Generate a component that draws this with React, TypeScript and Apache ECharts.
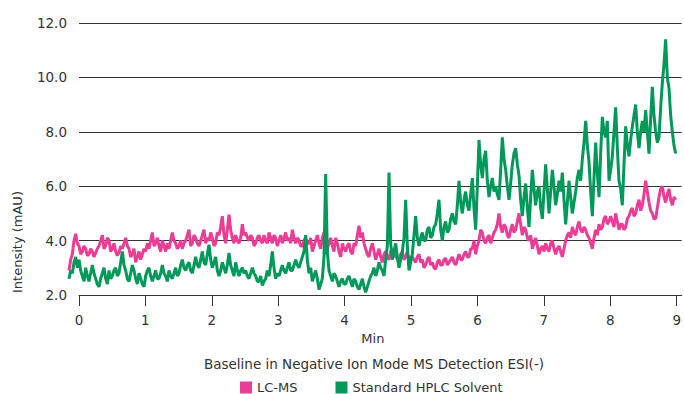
import React, { useEffect, useRef } from "react";
import * as echarts from "echarts";

// Sampling of the traces (minutes)
const START_MIN = -0.15;
const STEP_MIN = 0.025;

// LC-MS trace (mAU), one value per 0.025 min starting at -0.15 min
const lcmsValues = [
  2.9, 3.3, 3.5, 4.0, 4.25, 3.9,
  3.8, 3.5, 3.6, 3.8, 3.7, 3.45, 3.5, 3.7, 3.6, 3.4, 3.55, 3.7, 3.8, 4.0, 4.2, 3.7, 3.8, 4.1, 4.0, 3.6,
  3.7, 3.9, 3.6, 3.45, 3.55, 3.8, 3.7, 3.9, 4.1, 3.8, 3.7, 3.4, 3.5, 3.7, 3.2, 3.4, 3.6, 3.3, 3.5, 3.7,
  3.6, 3.9, 3.7, 4.0, 4.3, 3.8, 3.9, 4.1, 3.8, 3.6, 4.0, 3.8, 3.6, 3.9, 3.7, 4.0, 4.3, 4.0, 3.9, 3.7,
  3.8, 4.0, 3.7, 3.9, 4.0, 4.2, 4.4, 3.8, 3.9, 4.2, 4.1, 3.9, 3.8, 4.0, 4.2, 4.4, 3.9, 4.1, 4.0, 4.3,
  4.1, 3.8, 3.9, 4.3, 4.2, 4.5, 4.9, 4.2, 3.9, 4.4, 4.95, 4.4, 4.1, 3.9, 4.2, 4.0, 3.9, 4.1, 4.6, 4.2,
  4.3, 4.1, 4.0, 4.2, 4.1, 3.8, 3.9, 4.1, 4.2, 4.0, 3.9, 4.2, 4.0, 3.9, 4.3, 4.1, 3.9, 4.2, 4.1, 3.8,
  4.0, 4.2, 3.9, 4.1, 4.3, 4.0, 4.1, 3.9, 4.4, 4.1, 3.9, 4.1, 4.0, 3.8, 3.8, 4.0, 4.1, 3.9, 3.9, 4.1,
  3.6, 3.8, 4.0, 4.2, 3.9, 3.7, 4.1, 4.3, 3.5, 3.7, 3.9, 4.1, 3.8, 3.6, 4.1, 3.9, 3.6, 3.4, 3.9, 3.7,
  3.6, 3.8, 3.9, 3.6, 3.5, 3.9, 3.8, 4.2, 4.55, 4.1, 4.3, 3.9, 3.7, 3.5, 3.4, 3.7, 3.9, 3.6, 3.3, 3.5,
  3.7, 3.4, 3.2, 3.5, 3.6, 3.4, 3.3, 3.6, 3.7, 3.4, 3.5, 3.3, 3.3, 3.5, 3.6, 3.3, 3.4, 3.6, 3.2, 3.4,
  3.4, 3.3, 3.2, 3.4, 3.5, 3.2, 3.3, 3.0, 3.1, 3.3, 3.4, 3.1, 3.2, 3.0, 2.95, 3.2, 3.3, 3.1, 3.1, 3.3,
  3.35, 3.1, 3.2, 3.3, 3.4, 3.2, 3.1, 3.3, 3.5, 3.3, 3.3, 3.5, 3.6, 3.4, 3.4, 3.7, 3.7, 4.0, 3.5, 3.8,
  4.0, 4.4, 4.3, 4.0, 3.9, 4.1, 4.2, 3.9, 4.1, 4.3, 4.4, 4.6, 5.0, 4.5, 4.3, 4.6, 4.5, 4.2, 4.1, 4.4,
  4.6, 4.3, 4.4, 4.7, 5.0, 4.6, 4.2, 4.5, 4.4, 4.1, 4.0, 4.2, 3.7, 3.9, 4.1, 3.8, 3.5, 3.7, 3.8, 3.6,
  3.9, 3.7, 3.6, 3.9, 4.0, 3.7, 3.5, 3.7, 3.8, 3.6, 3.4, 3.7, 4.0, 4.2, 4.3, 4.1, 4.5, 4.3, 4.2, 4.5,
  4.7, 4.4, 4.3, 4.5, 4.4, 4.2, 4.1, 3.9, 3.7, 4.1, 4.4, 4.2, 4.6, 4.4, 4.5, 4.8, 4.9, 4.6, 4.7, 4.9,
  4.7, 4.5, 5.0, 4.7, 4.4, 4.6, 4.6, 4.4, 4.5, 4.8, 4.9, 5.1, 5.2, 4.9, 5.0, 5.3, 5.5, 5.1, 5.3, 5.7,
  6.2, 5.8, 5.4, 5.1, 5.0, 4.8, 4.8, 5.2, 5.6, 5.9, 6.0, 5.6, 5.4, 5.7, 5.9, 5.5, 5.3, 5.6, 5.5,
];

// Standard HPLC Solvent trace (mAU), same sampling
const hplcValues = [
  2.6, 2.9, 2.8, 3.2, 3.4, 3.0,
  3.3, 2.9, 2.7, 2.5, 3.0, 2.7, 2.5, 2.8, 3.1, 2.8, 2.6, 2.4, 2.3, 2.6, 2.8, 3.0, 2.6, 2.4, 2.9, 2.6,
  2.7, 2.9, 3.0, 2.7, 2.8, 3.2, 3.6, 3.1, 2.9, 2.6, 2.5, 2.8, 3.1, 2.9, 2.6, 2.4, 2.8, 2.6, 2.4, 2.3,
  2.7, 2.9, 3.0, 2.7, 2.5, 2.7, 2.9, 2.6, 2.6, 2.8, 3.1, 2.8, 2.7, 2.5, 2.9, 2.7, 2.6, 2.8, 3.0, 2.7,
  2.8, 3.1, 3.3, 3.0, 2.9, 3.1, 3.2, 2.9, 2.8, 3.1, 3.4, 3.1, 3.0, 3.3, 3.6, 3.2, 3.1, 3.5, 3.85, 3.3,
  3.0, 3.2, 3.4, 2.9, 2.7, 2.9, 3.2, 3.0, 2.8, 3.1, 3.55, 3.1, 2.9, 2.7, 3.2, 2.9, 2.7, 2.9, 3.0, 2.8,
  2.9, 2.7, 2.6, 2.8, 3.0, 2.8, 2.7, 2.5, 2.5, 2.7, 2.35, 2.5, 2.6, 2.9, 2.7, 3.1, 3.6, 3.0, 2.6, 2.8,
  2.7, 2.9, 3.1, 2.9, 2.8, 3.0, 3.2, 2.9, 2.9, 3.1, 3.3, 3.1, 3.0, 3.2, 3.4, 3.6, 4.2, 3.3, 2.8, 3.0,
  2.5, 2.7, 2.9, 2.6, 2.2, 2.4, 2.6, 3.4, 6.45, 3.6, 2.9, 2.7, 2.5, 2.8, 2.7, 2.5, 2.3, 2.5, 2.6, 2.4,
  2.4, 2.6, 2.7, 2.5, 2.3, 2.6, 2.5, 2.3, 2.2, 2.4, 2.6, 2.3, 2.1, 2.3, 2.5, 2.7, 2.8, 3.0, 2.7, 2.9,
  3.2, 3.0, 2.9, 2.7, 3.3, 3.8, 6.5, 3.9, 3.3, 3.6, 3.9, 3.4, 3.0, 3.3, 3.6, 4.1, 5.5, 3.8, 2.9, 3.2,
  3.5, 4.2, 4.9, 4.1, 3.8, 4.1, 4.3, 4.0, 4.0, 4.4, 4.5, 4.1, 4.2, 4.5, 4.6, 5.0, 5.5, 4.4, 4.0, 4.5,
  4.7, 4.3, 4.4, 4.8, 5.0, 4.7, 4.6, 5.3, 6.2, 5.4, 5.0, 5.5, 5.8, 5.3, 5.1, 5.7, 6.3, 5.2, 4.4, 6.0,
  7.7, 6.8, 6.3, 7.0, 7.3, 6.2, 5.6, 6.0, 6.3, 5.8, 6.0, 5.7, 5.5, 6.6, 7.8, 7.0, 6.6, 6.0, 5.5, 6.1,
  6.8, 7.2, 7.4, 6.8, 6.4, 5.5, 4.9, 5.6, 6.1, 5.2, 4.5, 5.6, 6.6, 5.9, 5.3, 5.8, 6.0, 5.2, 4.8, 5.8,
  6.8, 5.9, 5.0, 5.8, 6.6, 6.0, 5.3, 5.7, 6.2, 5.8, 6.5, 5.5, 4.6, 5.4, 6.2, 5.6, 5.0, 5.4, 5.8, 6.3,
  6.6, 6.2, 7.0, 7.6, 8.4, 7.5, 6.9, 5.8, 4.9, 6.3, 7.6, 6.5, 5.6, 7.2, 8.55, 8.0, 7.8, 8.4, 6.2, 6.6,
  7.1, 8.0, 8.9, 7.4, 6.2, 5.9, 5.3, 6.8, 8.2, 7.5, 7.1, 7.7, 8.2, 8.6, 9.0, 8.0, 7.4, 8.0, 8.4, 8.0,
  8.8, 8.0, 7.2, 8.5, 9.65, 8.6, 8.0, 7.6, 7.8, 8.9, 9.8, 10.5, 11.4, 10.0, 9.6, 8.6, 8.0, 7.5, 7.2,
];

const xTickValues = [0, 1, 2, 3, 4, 5, 6, 7, 8, 9];
const seriesNames = ["LC-MS", "Standard HPLC Solvent"];
const titleText = "Baseline in Negative Ion Mode MS Detection ESI(-)";
const xAxisName = "Min";
const yAxisName = "Intensity (mAU)";

const PINK = "#EC3D96";
const GREEN = "#00995A";
const TEXT = "#333333";
const FONT = "DejaVu Sans, Verdana, sans-serif";

function toPairs(values: number[]): [number, number][] {
  return values.map((v, i) => [Number((START_MIN + i * STEP_MIN).toFixed(3)), v]);
}

export default function App() {
  const ref = useRef<HTMLDivElement>(null);

  useEffect(() => {
    if (!ref.current) return;
    const chart = echarts.init(ref.current, null, { renderer: "svg" });
    chart.setOption({
      animation: false,
      backgroundColor: "#ffffff",
      textStyle: { fontFamily: FONT },
      grid: [
        { left: 79, right: 0, top: 23, bottom: 99, containLabel: false },
        // data grid: same scale, reaching back to the first sample at -0.15 min
        { left: 69, right: 0, top: 23, bottom: 99, containLabel: false },
      ],
      title: {
        text: titleText,
        left: 369,
        top: 359,
        textAlign: "center",
        textVerticalAlign: "middle",
        textStyle: { fontSize: 13.5, fontWeight: "normal", color: TEXT, fontFamily: FONT },
      },
      legend: {
        data: seriesNames,
        left: 235,
        top: 376,
        icon: "rect",
        itemWidth: 12,
        itemHeight: 12,
        itemGap: 38,
        textStyle: { fontSize: 13, color: TEXT, fontFamily: FONT },
      },
      xAxis: [
        {
          type: "value",
          gridIndex: 0,
          min: 0,
          max: 9.075,
          name: xAxisName,
          nameLocation: "middle",
          nameGap: 35,
          nameTextStyle: { fontSize: 13, color: TEXT, fontFamily: FONT, padding: [0, 15, 0, 0] },
          axisLine: { show: true, onZero: false, lineStyle: { color: TEXT, width: 1 } },
          axisTick: { show: true, length: 11, customValues: xTickValues, lineStyle: { color: TEXT } },
          axisLabel: { customValues: xTickValues, margin: 18, fontSize: 13.5, color: TEXT, fontFamily: FONT },
          splitLine: { show: false },
        },
        {
          type: "value",
          gridIndex: 1,
          min: -0.15,
          max: 9.075,
          show: false,
          splitLine: { show: false },
        },
      ],
      yAxis: [
        {
          type: "value",
          gridIndex: 0,
          min: 2,
          max: 12,
          interval: 2,
          axisLine: { show: false },
          axisTick: { show: false },
          axisLabel: {
            formatter: (v: number) => v.toFixed(1),
            margin: 12,
            fontSize: 13.5,
            color: TEXT,
            fontFamily: FONT,
          },
          splitLine: { show: true, lineStyle: { color: TEXT, width: 1 } },
        },
        {
          type: "value",
          gridIndex: 1,
          min: 2,
          max: 12,
          interval: 2,
          show: false,
          splitLine: { show: false },
        },
      ],
      graphic: [
        {
          type: "text",
          x: 17,
          y: 242,
          rotation: Math.PI / 2,
          style: {
            text: yAxisName,
            fontSize: 13,
            fill: TEXT,
            align: "center",
            verticalAlign: "middle",
            fontFamily: FONT,
          },
        },
      ],
      series: [
        {
          name: seriesNames[0],
          type: "line",
          xAxisIndex: 1,
          yAxisIndex: 1,
          data: toPairs(lcmsValues),
          symbol: "none",
          showSymbol: false,
          clip: false,
          color: PINK,
          lineStyle: { width: 3, color: PINK },
          itemStyle: { color: PINK },
        },
        {
          name: seriesNames[1],
          type: "line",
          xAxisIndex: 1,
          yAxisIndex: 1,
          data: toPairs(hplcValues),
          symbol: "none",
          showSymbol: false,
          clip: false,
          color: GREEN,
          lineStyle: { width: 3, color: GREEN },
          itemStyle: { color: GREEN },
        },
      ],
    });
    return () => {
      chart.dispose();
    };
  }, []);

  return (
    <div
      ref={ref}
      style={{ position: "fixed", left: 0, top: 0, width: 684, height: 394, background: "#fff" }}
    />
  );
}
